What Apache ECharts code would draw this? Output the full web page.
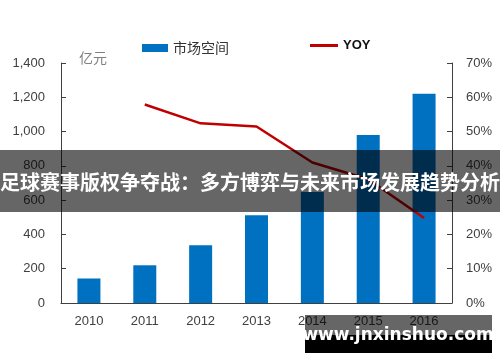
<!DOCTYPE html>
<html><head><meta charset="utf-8">
<script src="https://cdn.jsdelivr.net/npm/echarts@6/dist/echarts.min.js"></script>
<style>html,body{margin:0;padding:0;background:#fff}#c{width:500px;height:362px}</style>
</head><body><div id="c"></div>
<script>
const categories = ['2010','2011','2012','2013','2014','2015','2016'];
const marketSize = [143, 220, 337, 512, 648, 980, 1220];
const yoy = [null, 57.9, 52.4, 51.5, 41.0, 36.1, 24.8];
const leftTicks = {min:0, max:1400, interval:200};
const rightTicks = {min:0, max:70, interval:10};
const overlayTitle = '足球赛事版权争夺战：多方博弈与未来市场发展趋势分析';
const watermark = 'www.jnxinshuo.com';

const chart = echarts.init(document.getElementById('c'));
const axisTxt = {color:'#404040', fontSize:13, fontFamily:'Liberation Sans, Arial, sans-serif'};
chart.setOption({
  animation:false,
  grid:{left:61, right:48, top:63, bottom:59},
  legend:[
    {left:137, top:36, itemWidth:26, itemHeight:8, itemGap:4,
     data:[{name:'市场空间', icon:'rect', textStyle:{color:'#333', fontSize:14, fontFamily:'Noto Sans CJK SC'}}]},
    {left:305, top:34, itemWidth:28, itemHeight:3,
     data:[{name:'YOY', icon:'rect', textStyle:{color:'#111', fontSize:13, fontWeight:'bold', fontFamily:'Liberation Sans'}}]}
  ],
  xAxis:{
    type:'category', data:categories,
    axisLine:{lineStyle:{color:'#404040', width:1}},
    axisTick:{inside:true, length:5, lineStyle:{color:'#404040'}},
    axisLabel:Object.assign({margin:12}, axisTxt)
  },
  yAxis:[
    {type:'value', min:leftTicks.min, max:leftTicks.max, interval:leftTicks.interval,
     name:'亿元', nameLocation:'end', nameGap:-2,
     nameTextStyle:{color:'#7f7f7f', fontSize:14, align:'left', padding:[0,0,0,18], fontFamily:'Noto Sans CJK SC'},
     splitLine:{show:false},
     axisLine:{show:true, lineStyle:{color:'#404040'}},
     axisTick:{show:true, inside:true, length:5, lineStyle:{color:'#404040'}},
     axisLabel:Object.assign({margin:16, formatter:v=>v.toLocaleString('en-US')}, axisTxt)},
    {type:'value', min:rightTicks.min, max:rightTicks.max, interval:rightTicks.interval,
     splitLine:{show:false},
     axisLine:{show:true, lineStyle:{color:'#404040'}},
     axisTick:{show:true, inside:true, length:5, lineStyle:{color:'#404040'}},
     axisLabel:Object.assign({margin:14, formatter:'{value}%'}, axisTxt)}
  ],
  series:[
    {name:'市场空间', type:'bar', data:marketSize, barWidth:23, itemStyle:{color:'#0070c0'}, z:2},
    {name:'YOY', type:'line', yAxisIndex:1, data:yoy, symbol:'none', connectNulls:false,
     lineStyle:{color:'#c00000', width:2.5}, itemStyle:{color:'#c00000'}, z:3}
  ],
  graphic:[
    {type:'rect', left:0, top:150, shape:{width:500, height:62}, style:{fill:'rgba(0,0,0,0.6)'}, z:100},
    {type:'text', x:250, y:182, style:{text:overlayTitle, fill:'#fff', font:'bold 20px "Noto Sans CJK SC"', textAlign:'center', textVerticalAlign:'middle'}, z:101},
    {type:'rect', left:305, top:315, shape:{width:187, height:20}, style:{fill:'rgba(0,0,0,0.6)'}, z:100},
    {type:'rect', left:305, top:335, shape:{width:187, height:18}, style:{fill:'#000'}, z:100},
    {type:'text', x:398, y:336, style:{text:watermark, fill:'#fff', font:'bold 17px "DejaVu Sans"', textAlign:'center', textVerticalAlign:'middle'}, z:101}
  ]
});
</script></body></html>
